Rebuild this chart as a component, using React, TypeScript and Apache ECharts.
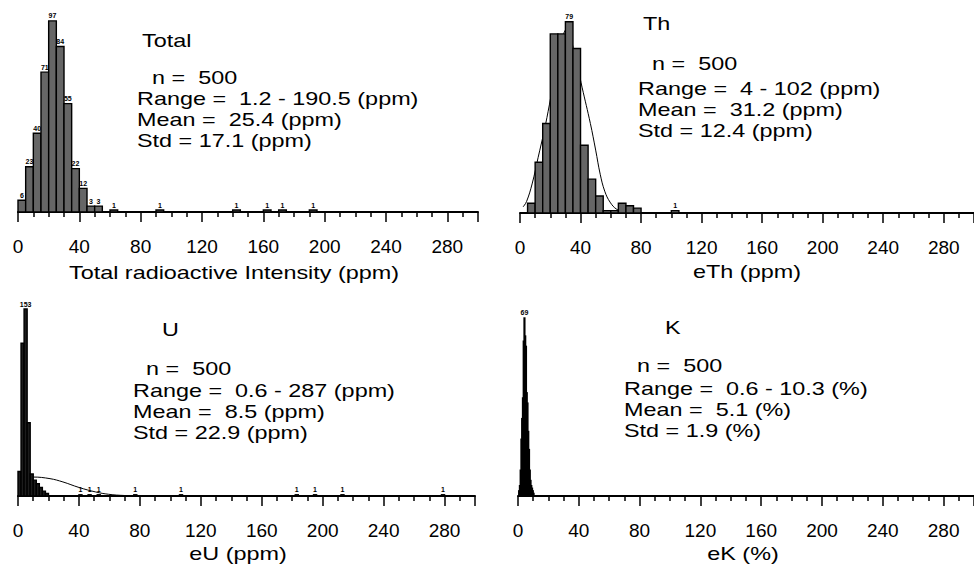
import React, { useEffect, useRef } from "react";
import * as echarts from "echarts";

// ---------- data ----------
const tickValues = [0, 40, 80, 120, 160, 200, 240, 280];

// Total radioactive intensity, 5-unit bins
const totalBinWidth = 5;
const totalBinStart = [0, 5, 10, 15, 20, 25, 30, 35, 40, 45, 50, 60, 90, 140, 160, 170, 190];
const totalCounts = [6, 23, 40, 71, 97, 84, 55, 22, 12, 3, 3, 1, 1, 1, 1, 1, 1];
const totalLabelled = [1, 1, 1, 1, 1, 1, 1, 1, 1, 1, 1, 1, 1, 1, 1, 1, 1];

// eTh, 5-unit bins
const thBinWidth = 5;
const thBinStart = [5, 10, 15, 20, 25, 30, 35, 40, 45, 50, 55, 60, 65, 70, 75, 100];
const thCounts = [4, 21, 37, 74, 74, 79, 68, 28, 14, 7, 1, 1, 4, 3, 2, 1];
const thLabelled = [0, 0, 0, 0, 0, 1, 0, 0, 0, 0, 0, 0, 0, 0, 0, 1];
const thCurve = [
  [2, 2.5], [4.3, 4.7], [8, 12], [12, 23], [16, 34], [19.5, 45], [25, 64], [31, 76],
  [36, 66], [41, 52], [46.5, 37], [50, 26], [53, 16], [56, 9], [59.5, 4.5], [64, 1.5], [70, 0.3],
];

// eU, 2-unit bins
const uBinWidth = 2;
const uBinStart = [0, 2, 4, 6, 8, 10, 12, 14, 16, 18, 40, 46, 52, 76, 106, 182, 194, 212, 278];
const uCounts = [20, 125, 153, 60, 18, 13, 10, 7, 4, 2, 1, 1, 1, 1, 1, 1, 1, 1, 1];
const uLabelled = [0, 0, 1, 0, 0, 0, 0, 0, 0, 0, 1, 1, 1, 1, 1, 1, 1, 1, 1];
const uCurve = [
  [0, 15.5], [10, 15.5], [21, 14.2], [29.5, 11.5], [40, 7], [51, 3.3], [59.5, 1.4], [70, 0.4], [85, 0],
];

// eK, 0.5-unit bins
const kBinWidth = 0.5;
const kBinStart = [0.5, 1, 1.5, 2, 2.5, 3, 3.5, 4, 4.5, 5, 5.5, 6, 6.5, 7, 7.5, 8, 8.5, 9, 9.5, 10];
const kCounts = [2, 4, 10, 22, 30, 38, 60, 69, 62, 58, 40, 36, 25, 18, 10, 6, 4, 3, 2, 1];
const kLabelled = [0, 0, 0, 0, 0, 0, 0, 1, 0, 0, 0, 0, 0, 0, 0, 0, 0, 0, 0, 0];

// texts
const axisNames = ["Total radioactive Intensity (ppm)", "eTh (ppm)", "eU (ppm)", "eK (%)"];
const statsTotal = ["Total", "n =  500", "Range =  1.2 - 190.5 (ppm)", "Mean =  25.4 (ppm)", "Std = 17.1 (ppm)"];
const statsTh = ["Th", "n =  500", "Range =  4 - 102 (ppm)", "Mean =  31.2 (ppm)", "Std = 12.4 (ppm)"];
const statsU = ["U", "n =  500", "Range =  0.6 - 287 (ppm)", "Mean =  8.5 (ppm)", "Std = 22.9 (ppm)"];
const statsK = ["K", "n =  500", "Range =  0.6 - 10.3 (%)", "Mean =  5.1 (%)", "Std = 1.9 (%)"];

// ---------- layout ----------
const FONT = '"Liberation Sans", Arial, Helvetica, sans-serif';
const grids = [
  { left: 18, top: 15, width: 460, height: 197, yMax: 100 },
  { left: 520, top: 7.3, width: 459, height: 205.7, yMax: 85 },
  { left: 18, top: 300.5, width: 457, height: 195.5, yMax: 160 },
  { left: 518, top: 302.5, width: 463, height: 193.5, yMax: 75 },
];
const namePos = [
  [234, 273], [747, 272], [238, 554], [743, 554],
];
const statsPos = [
  { title: [142, 41], n: [152, 78], x: 137, y: [99, 120, 141] },
  { title: [643, 24], n: [652, 64], x: 638, y: [89, 110, 131] },
  { title: [162, 330], n: [146, 369], x: 133, y: [391, 412, 433] },
  { title: [665, 328], n: [637, 366], x: 624, y: [389, 410, 431] },
];

function bins(start: number[], counts: number[], width: number, lab: number[]) {
  return start.map((s, i) => [s, s + width, counts[i], lab[i]]);
}

const renderBar = (params: any, api: any) => {
  const x0 = api.value(0);
  const x1 = api.value(1);
  const v = api.value(2);
  const lab = api.value(3);
  const top = api.coord([x0, v]);
  const bot = api.coord([x1, 0]);
  const w = bot[0] - top[0];
  const children: any[] = [
    {
      type: "rect",
      shape: { x: top[0], y: top[1], width: Math.max(w, 0.6), height: bot[1] - top[1] },
      style: { fill: w > 5 ? "#666" : "#1c1c1c", stroke: "#000", lineWidth: 1.4 },
    },
  ];
  if (lab) {
    children.push({
      type: "text",
      x: (top[0] + bot[0]) / 2,
      y: top[1] - 1.5,
      style: {
        text: String(v),
        align: "center",
        verticalAlign: "bottom",
        font: `bold 7px ${FONT}`,
        fill: "#000",
        stroke: null,
      },
    });
  }
  return { type: "group", children };
};

function textEl(text: string, x: number, y: number, align: string) {
  return {
    type: "text",
    x,
    y,
    scaleX: 1.3,
    style: { text, font: `18px ${FONT}`, fill: "#000", align, verticalAlign: "middle" },
  };
}

export default function App() {
  const ref = useRef<HTMLDivElement>(null);
  useEffect(() => {
    if (!ref.current) return;
    const chart = echarts.init(ref.current, null, { renderer: "svg" });

    const xAxes = grids.map((_, i) => ({
      type: "value",
      gridIndex: i,
      min: 0,
      max: 300,
      interval: 40,
      axisLine: { show: true, onZero: false, lineStyle: { color: "#000", width: 2 } },
      axisTick: { show: true, length: 10, lineStyle: { color: "#000", width: 1.5 } },
      minorTick: { show: true, splitNumber: 4, length: 5, lineStyle: { color: "#000", width: 1.5 } },
      splitLine: { show: false },
      axisLabel: {
        margin: 25,
        fontSize: 19,
        fontFamily: FONT,
        color: "#000",
        customValues: tickValues,
      },
    }));
    const yAxes = grids.map((g, i) => ({
      type: "value",
      gridIndex: i,
      min: 0,
      max: g.yMax,
      show: false,
    }));

    const barSets = [
      bins(totalBinStart, totalCounts, totalBinWidth, totalLabelled),
      bins(thBinStart, thCounts, thBinWidth, thLabelled),
      bins(uBinStart, uCounts, uBinWidth, uLabelled),
      bins(kBinStart, kCounts, kBinWidth, kLabelled),
    ];

    const series: any[] = barSets.map((data, i) => ({
      type: "custom",
      xAxisIndex: i,
      yAxisIndex: i,
      renderItem: renderBar,
      encode: { x: [0, 1], y: 2 },
      itemStyle: { color: "#000" },
      data,
      z: 3,
    }));
    series.push({
      type: "line",
      xAxisIndex: 1,
      yAxisIndex: 1,
      data: thCurve,
      showSymbol: false,
      smooth: 0.4,
      lineStyle: { color: "#000", width: 1 },
      z: 1,
    });
    series.push({
      type: "line",
      xAxisIndex: 2,
      yAxisIndex: 2,
      data: uCurve,
      showSymbol: false,
      smooth: 0.4,
      lineStyle: { color: "#000", width: 1 },
      z: 1,
    });

    const stats = [statsTotal, statsTh, statsU, statsK];
    const graphics: any[] = [];
    stats.forEach((s, i) => {
      const p = statsPos[i];
      graphics.push(textEl(s[0], p.title[0], p.title[1], "left"));
      graphics.push(textEl(s[1], p.n[0], p.n[1], "left"));
      graphics.push(textEl(s[2], p.x, p.y[0], "left"));
      graphics.push(textEl(s[3], p.x, p.y[1], "left"));
      graphics.push(textEl(s[4], p.x, p.y[2], "left"));
      graphics.push(textEl(axisNames[i], namePos[i][0], namePos[i][1], "center"));
    });

    chart.setOption({
      animation: false,
      backgroundColor: "#fff",
      color: ["#000"],
      grid: grids.map((g) => ({ left: g.left, top: g.top, width: g.width, height: g.height })),
      xAxis: xAxes,
      yAxis: yAxes,
      series,
      graphic: graphics,
    });
    return () => chart.dispose();
  }, []);
  return (
    <div
      ref={ref}
      style={{ position: "absolute", left: 0, top: 0, width: 974, height: 568, background: "#fff" }}
    />
  );
}
